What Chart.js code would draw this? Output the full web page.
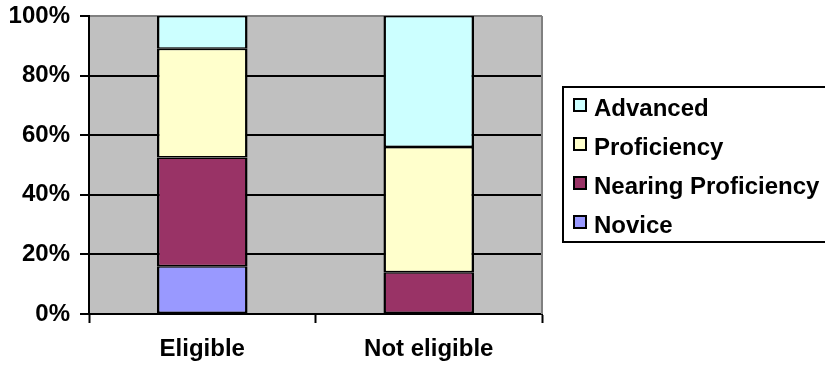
<!DOCTYPE html>
<html>
<head>
<meta charset="utf-8">
<script src="https://cdn.jsdelivr.net/npm/chart.js@4/dist/chart.umd.min.js"></script>
<style>
  html, body { margin: 0; padding: 0; background: #ffffff; }
  #wrap { width: 825px; height: 368px; position: relative; }
</style>
</head>
<body>
<div id="wrap"><canvas id="c" width="825" height="368"></canvas></div>
<script>
// Share of students at each performance level (%)
const categories = ['Eligible', 'Not eligible'];
const novice = [16, 0];
const nearingProficiency = [36.5, 14];
const proficiency = [36.5, 42];
const advanced = [11, 44];
const yTicks = [0, 20, 40, 60, 80, 100];

const FONT = "'Liberation Sans', Arial, sans-serif";

const series = [
  { label: 'Novice', data: novice, color: '#9999FF' },
  { label: 'Nearing Proficiency', data: nearingProficiency, color: '#993366' },
  { label: 'Proficiency', data: proficiency, color: '#FFFFCC' },
  { label: 'Advanced', data: advanced, color: '#CCFFFF' }
];

// Grey plot area and its grey top/right frame
const plotFrame = {
  id: 'plotFrame',
  beforeDraw(chart) {
    const { ctx, chartArea: a } = chart;
    ctx.save();
    ctx.fillStyle = '#C0C0C0';
    ctx.fillRect(a.left, a.top, a.right - a.left, a.bottom - a.top);
    ctx.restore();
  },
  afterDraw(chart) {
    const { ctx, chartArea: a } = chart;
    ctx.save();
    ctx.strokeStyle = '#808080';
    ctx.lineWidth = 2;
    ctx.beginPath();
    ctx.moveTo(Math.round(a.right), a.top);
    ctx.lineTo(Math.round(a.right), a.bottom);
    ctx.stroke();
    ctx.restore();
  }
};

// Boxed legend on the right, top series first
const boxLegend = {
  id: 'boxLegend',
  afterDraw(chart) {
    const { ctx } = chart;
    const x0 = 563, y0 = 87, x1 = 830, y1 = 242;
    ctx.save();
    ctx.fillStyle = '#ffffff';
    ctx.fillRect(x0, y0, x1 - x0, y1 - y0);
    ctx.strokeStyle = '#000000';
    ctx.lineWidth = 2;
    ctx.strokeRect(x0, y0, x1 - x0, y1 - y0);
    const items = chart.data.datasets.slice().reverse();
    ctx.font = 'bold 24px ' + FONT;
    ctx.textBaseline = 'middle';
    ctx.textAlign = 'left';
    items.forEach((ds, i) => {
      const cy = 108 + i * 39;
      ctx.fillStyle = ds.backgroundColor;
      ctx.fillRect(574, cy - 9, 12, 12);
      ctx.strokeStyle = '#000000';
      ctx.lineWidth = 2;
      ctx.strokeRect(574, cy - 9, 12, 12);
      ctx.fillStyle = '#000000';
      ctx.fillText(ds.label, 594, cy + 1);
    });
    ctx.restore();
  }
};

new Chart(document.getElementById('c'), {
  type: 'bar',
  data: {
    labels: categories,
    datasets: series.map(s => ({
      label: s.label,
      data: s.data,
      backgroundColor: s.color,
      borderColor: '#000000',
      borderWidth: { top: 1.5, bottom: 1.5, left: 2.5, right: 2.5 },
      borderSkipped: false,
      barPercentage: 0.4,
      categoryPercentage: 1.0
    }))
  },
  options: {
    responsive: false,
    animation: false,
    devicePixelRatio: 1,
    layout: { padding: { left: 0, right: 283, top: 16, bottom: 0 } },
    plugins: {
      legend: { display: false },
      tooltip: { enabled: false }
    },
    scales: {
      x: {
        stacked: true,
        offset: true,
        grid: {
          offset: true,
          drawOnChartArea: false,
          drawTicks: true,
          tickLength: 9,
          tickColor: '#000000',
          tickWidth: 2
        },
        border: { color: '#000000', width: 2 },
        ticks: {
          color: '#000000',
          padding: 12,
          font: { family: FONT, size: 24, weight: 'bold' }
        },
        afterFit(scale) { scale.height = 54; scale.paddingLeft = 0; scale.paddingRight = 0; }
      },
      y: {
        stacked: true,
        min: 0,
        max: 100,
        afterBuildTicks(scale) { scale.ticks = yTicks.map(v => ({ value: v })); },
        grid: {
          color: ctx => (ctx.tick && ctx.tick.value === 100) ? '#808080' : '#000000',
          lineWidth: 2,
          drawTicks: true,
          tickLength: 9,
          tickColor: '#000000',
          tickWidth: 2
        },
        border: { color: '#000000', width: 2 },
        ticks: {
          color: '#000000',
          padding: 10,
          font: { family: FONT, size: 24, weight: 'bold' },
          callback: v => v + '%'
        },
        afterFit(scale) { scale.width = 89; scale.paddingTop = 0; scale.paddingBottom = 0; }
      }
    }
  },
  plugins: [plotFrame, boxLegend]
});
</script>
</body>
</html>
